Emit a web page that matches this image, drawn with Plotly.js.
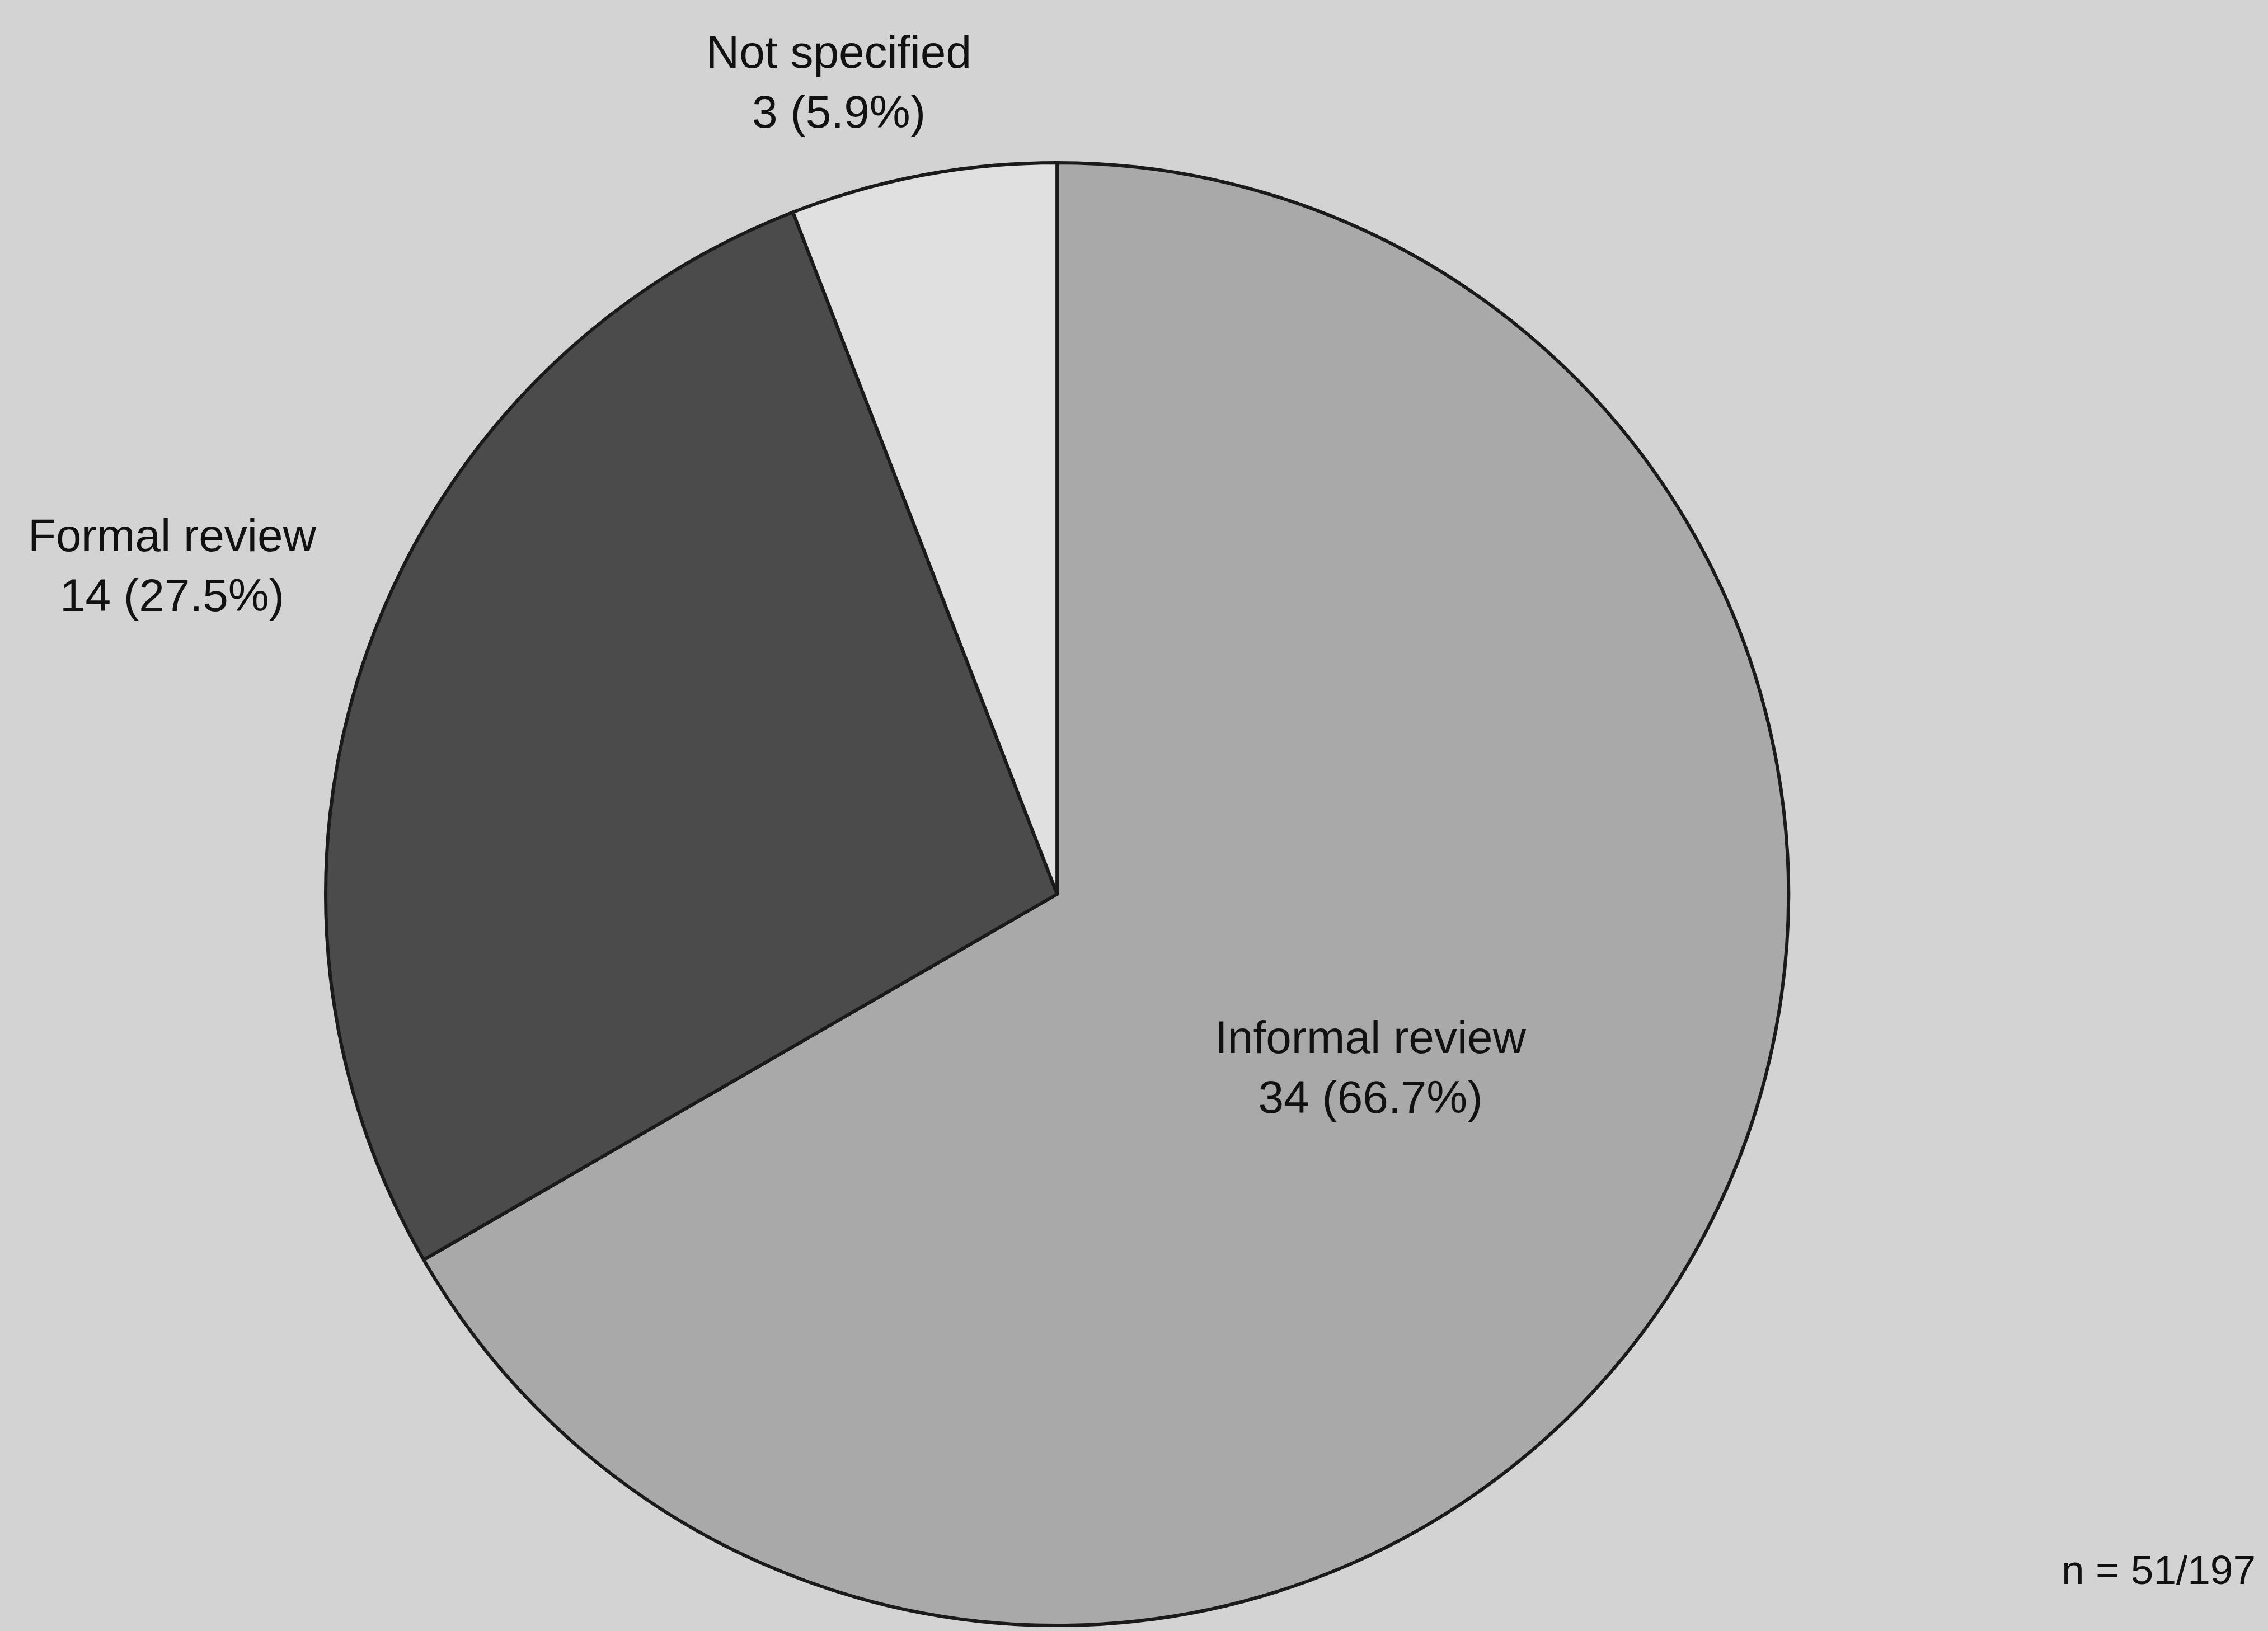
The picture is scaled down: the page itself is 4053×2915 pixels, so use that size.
<!DOCTYPE html>
<html>
<head>
<meta charset="utf-8">
<script src="https://cdn.plot.ly/plotly-3.0.1.min.js"></script>
<style>
  html, body { margin: 0; padding: 0; background: #d3d3d3; }
  #chart { width: 4053px; height: 2915px; }
</style>
</head>
<body>
<div id="chart"></div>
<script>
// Data
const categories = ["Informal review", "Formal review", "Not specified"];
const counts = [34, 14, 3];
const sliceColors = ["#a9a9a9", "#4b4b4b", "#e0e0e0"];
const totalResponded = 51;
const totalSample = 197;

const total = counts.reduce((a, b) => a + b, 0);
const labelText = categories.map((c, i) =>
  c + "<br>" + counts[i] + " (" + (100 * counts[i] / total).toFixed(1) + "%)");

// Label placement (paper coords)
const labelPos = [
  { x: 0.6043, y: 0.3458 },
  { x: 0.076, y: 0.6535 },
  { x: 0.3699, y: 0.950 }
];

const font = { family: "Liberation Sans, Arial, sans-serif", size: 82, color: "#111111" };

const annotations = categories.map((c, i) => ({
  xref: "paper", yref: "paper",
  x: labelPos[i].x, y: labelPos[i].y,
  xanchor: "center", yanchor: "middle",
  text: labelText[i], showarrow: false, align: "center",
  font: font
}));
annotations.push({
  xref: "paper", yref: "paper", x: 0.9951, y: 0.0377,
  xanchor: "right", yanchor: "middle",
  text: "n = " + totalResponded + "/" + totalSample,
  showarrow: false, font: Object.assign({}, font, { size: 73 })
});

const trace = {
  type: "pie",
  labels: categories,
  values: counts,
  sort: false,
  direction: "clockwise",
  rotation: 0,
  textinfo: "none",
  hoverinfo: "none",
  marker: { colors: sliceColors, line: { color: "#1a1a1a", width: 6 } },
  domain: { x: [0.1436, 0.7886], y: [0.0034, 0.9002] },
  showlegend: false
};

const layout = {
  width: 4053, height: 2915,
  margin: { l: 0, r: 0, t: 0, b: 0 },
  paper_bgcolor: "#d3d3d3",
  plot_bgcolor: "#d3d3d3",
  showlegend: false,
  annotations: annotations
};

Plotly.newPlot("chart", [trace], layout, { staticPlot: true });
</script>
</body>
</html>
